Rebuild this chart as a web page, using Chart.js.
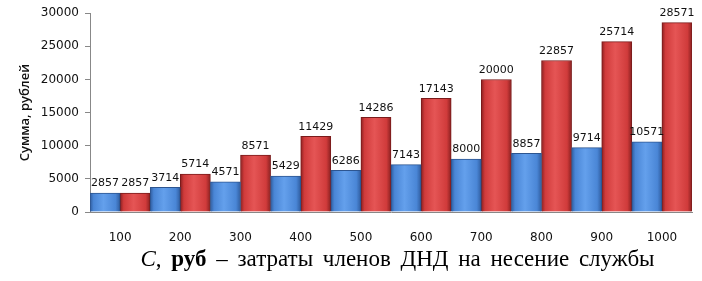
<!DOCTYPE html>
<html>
<head>
<meta charset="utf-8">
<script src="https://cdn.jsdelivr.net/npm/chart.js@4/dist/chart.umd.min.js"></script>
<style>
  body { margin: 0; background: #fff; }
  #wrap { position: relative; width: 702px; height: 281px; }
  #caption {
    position: absolute; left: 0; width: 795px; top: 246px; text-align: center;
    font-family: "Liberation Serif", serif; font-size: 23px; word-spacing: 4px;
    color: #000; white-space: nowrap; line-height: 26px;
  }
</style>
</head>
<body>
<div id="wrap">
  <canvas id="barChart" width="702" height="281"></canvas>
  <div id="caption"><i>C</i>, <b>руб</b> – затраты членов ДНД на несение службы</div>
</div>
<script>
const categories = ['100', '200', '300', '400', '500', '600', '700', '800', '900', '1000'];
const blueValues = [2857, 3714, 4571, 5429, 6286, 7143, 8000, 8857, 9714, 10571];
const redValues = [2857, 5714, 8571, 11429, 14286, 17143, 20000, 22857, 25714, 28571];
const yTicks = [0, 5000, 10000, 15000, 20000, 25000, 30000];

// horizontal shading across each bar (cylinder-ish look)
function barShade(side, dark, light, mid) {
    return function(context) {
        const chart = context.chart;
        const xs = chart.scales.x;
        if (!xs || context.dataIndex === undefined) return mid;
        const center = xs.getPixelForValue(context.dataIndex);
        const w = (xs.getPixelForValue(1) - xs.getPixelForValue(0)) / 2;
        if (!isFinite(center) || !isFinite(w) || w <= 0) return mid;
        const x0 = side === 0 ? center - w : center;
        const g = chart.ctx.createLinearGradient(x0, 0, x0 + w, 0);
        g.addColorStop(0, dark);
        g.addColorStop(0.12, mid);
        g.addColorStop(0.45, light);
        g.addColorStop(0.85, mid);
        g.addColorStop(1, dark);
        return g;
    };
}

const valueLabels = {
    id: 'valueLabels',
    afterDatasetsDraw(chart) {
        const ctx = chart.ctx;
        ctx.save();
        ctx.font = '11px "DejaVu Sans"';
        ctx.fillStyle = '#111';
        ctx.textAlign = 'center';
        ctx.textBaseline = 'bottom';
        chart.data.datasets.forEach((ds, i) => {
            chart.getDatasetMeta(i).data.forEach((bar, j) => {
                ctx.fillText(ds.data[j], bar.x, bar.y - 4);
            });
        });
        ctx.restore();
    }
};

new Chart(document.getElementById('barChart'), {
    type: 'bar',
    data: {
        labels: categories,
        datasets: [
            {
                data: blueValues,
                backgroundColor: barShade(0, '#2f5c9e', '#64a0ec', '#4a86d6'),
                borderColor: '#2d5590',
                borderWidth: 1,
                categoryPercentage: 1,
                barPercentage: 1
            },
            {
                data: redValues,
                backgroundColor: barShade(1, '#8a2020', '#e55555', '#d03b3b'),
                borderColor: '#7a1b1b',
                borderWidth: 1,
                categoryPercentage: 1,
                barPercentage: 1
            }
        ]
    },
    options: {
        responsive: false,
        animation: false,
        layout: { padding: { top: 13, right: 10, bottom: 40, left: 0 } },
        plugins: {
            legend: { display: false },
            tooltip: { enabled: false }
        },
        scales: {
            x: {
                grid: { display: false },
                border: { display: true, color: '#888' },
                ticks: { color: '#111', font: { family: 'DejaVu Sans', size: 12 }, padding: 11 },
                afterFit: s => { s.height = 29; }
            },
            y: {
                min: 0,
                max: 30000,
                afterBuildTicks: s => { s.ticks = yTicks.map(v => ({ value: v })); },
                grid: { display: true, drawOnChartArea: false, drawTicks: true, tickLength: 5, color: '#888' },
                border: { display: true, color: '#888' },
                ticks: {
                    color: '#111',
                    font: { family: 'DejaVu Sans', size: 12 },
                    padding: 6,
                    callback: v => String(v)
                },
                title: {
                    display: true,
                    text: 'Сумма, рублей',
                    color: '#111',
                    font: { family: 'Open Sans', size: 13, weight: '600' },
                    padding: { top: 17, bottom: 0 }
                },
                afterFit: s => { s.width = 90; }
            }
        }
    },
    plugins: [valueLabels]
});
</script>
</body>
</html>
